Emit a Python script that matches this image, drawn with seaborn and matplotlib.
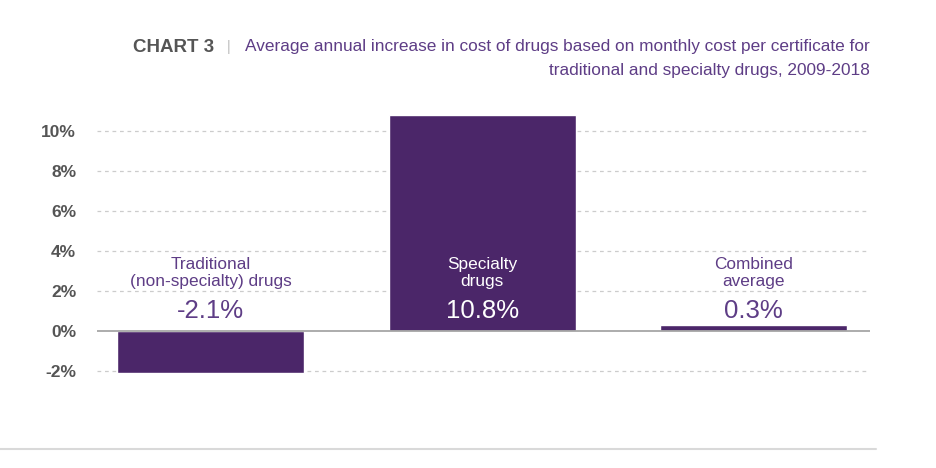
import matplotlib
matplotlib.use("Agg")
import matplotlib.pyplot as plt
import seaborn as sns
import pandas as pd

# data
categories = ["Traditional\n(non-specialty) drugs", "Specialty\ndrugs", "Combined\naverage"]
values = [-2.1, 10.8, 0.3]
value_labels = ["-2.1%", "10.8%", "0.3%"]
yticks = [-2, 0, 2, 4, 6, 8, 10]

bar_color = "#4b2669"
text_purple = "#5e3d86"

sns.set_style("white")
plt.rcParams['font.family'] = ['Liberation Sans', 'DejaVu Sans']

df = pd.DataFrame({"cat": categories, "val": values})

fig = plt.figure(figsize=(9.36, 4.68), dpi=100)
ax = fig.add_axes([97 / 936, 1 - 385 / 468, (870 - 97) / 936, (385 - 105) / 468])

sns.barplot(data=df, x="cat", y="val", color=bar_color, width=0.69,
            saturation=1, ax=ax, zorder=3)

ax.set_xlim(-0.42, 2.43)
ax.set_ylim(-2.7, 11.3)
ax.set_yticks(yticks)
ax.set_yticklabels([f"{t}%" for t in yticks], fontsize=12.5, fontweight="bold", color="#555555")
ax.tick_params(axis="y", length=0, pad=15)
ax.set_xticks([])
ax.set_xlabel("")
ax.set_ylabel("")
for s in ax.spines.values():
    s.set_visible(False)

for t in yticks:
    if t == 0:
        ax.axhline(0, color="#a6a6a6", lw=1.3, zorder=4)
    else:
        ax.axhline(t, color="#cccccc", lw=0.9, ls=(0, (3, 3)), zorder=1)

for i, (cat, lab) in enumerate(zip(categories, value_labels)):
    c = "white" if values[i] > 5 else text_purple
    ax.text(i, 2.9, cat, ha="center", va="center", fontsize=12.4, color=c,
            linespacing=1.1, zorder=5)
    ax.text(i, 1.0, lab, ha="center", va="center", fontsize=18.5, color=c, zorder=5)

# title
fig.text(133 / 936, 1 - 47 / 468, "CHART 3", fontsize=13.5, fontweight="bold",
         color="#555555", va="center", ha="left")
fig.text(227 / 936, 1 - 47 / 468, "|", fontsize=10, color="#bbbbbb", va="center", ha="left")
fig.text(870 / 936, 1 - 47 / 468,
         "Average annual increase in cost of drugs based on monthly cost per certificate for",
         fontsize=12.4, color=text_purple, va="center", ha="right")
fig.text(870 / 936, 1 - 71 / 468, "traditional and specialty drugs, 2009-2018",
         fontsize=12.4, color=text_purple, va="center", ha="right")

# bottom rule
fig.add_artist(plt.Line2D([0, 876 / 936], [1 - 449 / 468] * 2, color="#d9d9d9", lw=1.5))

fig.savefig("out.png", dpi=100)
